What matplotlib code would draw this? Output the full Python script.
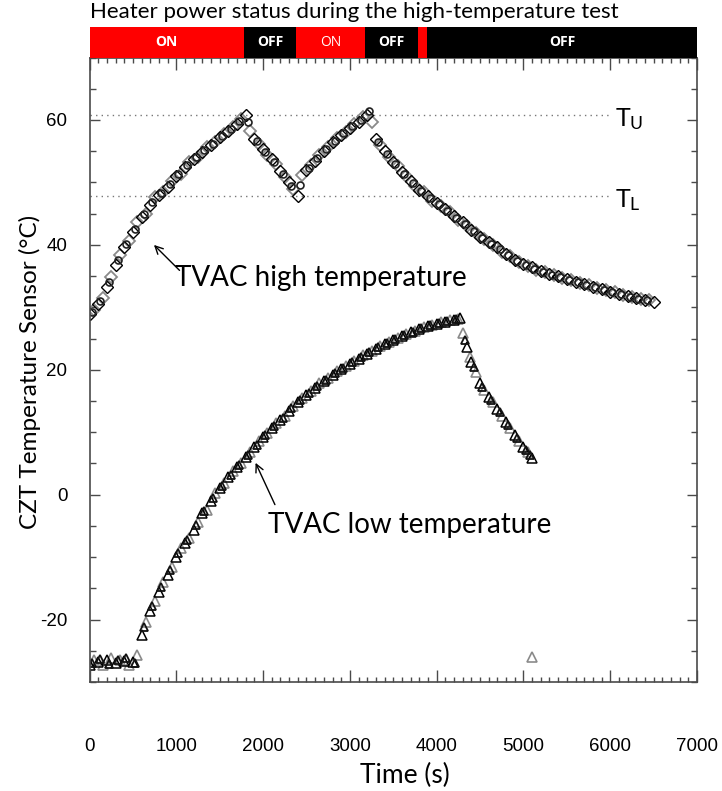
import matplotlib
matplotlib.use("Agg")
import matplotlib.pyplot as plt
from matplotlib.ticker import MultipleLocator

# ---------------- data ----------------
# heater status bar (time boundaries in s)
heater_start = [0, 1780, 2380, 3175, 3785, 3890]
heater_end = [1780, 2380, 3175, 3785, 3890, 7000]
heater_state = ["ON", "OFF", "ON", "OFF", "ON", "OFF"]

# TVAC high temperature test, sensor A (black diamonds)
high_t_a = [0, 100, 200, 300, 400, 500, 600, 700, 800, 900, 1000, 1100, 1200, 1300,
            1400, 1500, 1600, 1700, 1800, 1900, 2000, 2100, 2200, 2300, 2400, 2500,
            2600, 2700, 2800, 2900, 3000, 3100, 3200, 3300, 3400, 3500, 3600, 3700,
            3800, 3900, 4000, 4100, 4200, 4300, 4400, 4500, 4600, 4700, 4800, 4900,
            5000, 5100, 5200, 5300, 5400, 5500, 5600, 5700, 5800, 5900, 6000, 6100,
            6200, 6300, 6400, 6500]
high_T_a = [29.0, 30.6, 33.2, 36.7, 39.6, 42.0, 44.5, 46.4, 48.0, 49.3, 51.0, 52.5, 53.7,
            54.9, 56.0, 57.2, 58.2, 59.4, 60.8, 57.0, 55.3, 53.8, 51.9, 50.0, 47.8, 52.0,
            53.5, 55.0, 56.4, 57.6, 58.7, 59.6, 60.8, 57.0, 55.0, 53.3, 51.7, 50.3, 48.8,
            47.8, 46.7, 45.7, 44.6, 43.6, 42.4, 41.3, 40.5, 39.6, 38.5, 37.5, 36.9, 36.4,
            35.8, 35.3, 35.0, 34.5, 34.1, 33.7, 33.3, 32.9, 32.5, 32.2, 31.8, 31.5, 31.2,
            30.9]

# TVAC high temperature test, sensor B (grey diamonds)
high_t_b = [50, 150, 250, 350, 450, 550, 650, 750, 850, 950, 1050, 1150, 1250, 1350,
            1450, 1550, 1650, 1750, 1850, 1950, 2050, 2150, 2250, 2350, 2450, 2550,
            2650, 2750, 2850, 2950, 3050, 3150, 3250, 3350, 3450, 3550, 3650, 3750,
            3850, 3950, 4050, 4150, 4250, 4350, 4450, 4550, 4650, 4750, 4850, 4950,
            5050, 5150, 5250, 5350, 5450, 5550, 5650, 5750, 5850, 5950, 6050, 6150,
            6250, 6350, 6450]
high_T_b = [29.6, 31.5, 34.8, 38.4, 40.6, 43.6, 44.9, 47.6, 48.4, 50.3, 51.4, 53.3, 54.0,
            55.6, 56.4, 57.7, 58.9, 60.2, 58.3, 56.2, 54.4, 52.9, 50.8, 49.0, 51.2, 52.8,
            54.4, 55.6, 57.1, 58.0, 59.3, 60.4, 59.6, 56.0, 54.0, 52.6, 51.0, 49.4, 48.5,
            47.1, 46.2, 45.2, 44.0, 43.0, 41.9, 41.0, 40.0, 38.9, 38.2, 37.3, 36.6, 36.0,
            35.6, 35.1, 34.7, 34.3, 33.9, 33.5, 33.1, 32.7, 32.4, 32.0, 31.7, 31.4, 31.1]

# TVAC high temperature test, sensor C (black circles)
high_t_c = [25, 125, 225, 325, 425, 525, 625, 725, 825, 925, 1025, 1125, 1225, 1325,
            1425, 1525, 1625, 1725, 1825, 1925, 2025, 2125, 2225, 2325, 2425, 2525,
            2625, 2725, 2825, 2925, 3025, 3125, 3225, 3325, 3425, 3525, 3625, 3725,
            3825, 3925, 4025, 4125, 4225, 4325, 4425, 4525, 4625, 4725, 4825, 4925,
            5025, 5125, 5225, 5325, 5425, 5525, 5625, 5725, 5825, 5925, 6025, 6125,
            6225, 6325, 6425]
high_T_c = [29.3, 31.0, 34.0, 37.5, 40.2, 42.6, 45.0, 46.9, 48.3, 49.7, 51.3, 52.8, 54.0,
            55.2, 56.2, 57.4, 58.6, 59.8, 59.6, 56.6, 54.8, 53.3, 51.4, 49.5, 49.6, 52.3,
            53.9, 55.3, 56.7, 57.9, 59.0, 60.0, 61.4, 56.4, 54.6, 53.0, 51.3, 49.9, 48.6,
            47.5, 46.5, 45.4, 44.3, 43.3, 42.2, 41.1, 40.2, 39.3, 38.3, 37.4, 36.8, 36.2,
            35.7, 35.2, 34.9, 34.4, 34.0, 33.6, 33.2, 32.8, 32.4, 32.1, 31.7, 31.4, 31.2]

# TVAC low temperature test, sensor A (black triangles)
low_t_a = [0, 100, 200, 300, 400, 500, 600, 700, 800, 900, 1000, 1100, 1200, 1300, 1400,
           1500, 1600, 1700, 1800, 1900, 2000, 2100, 2200, 2300, 2400, 2500, 2600, 2700,
           2800, 2900, 3000, 3100, 3200, 3300, 3400, 3500, 3600, 3700, 3800, 3900, 4000,
           4100, 4200, 4270, 4350, 4400, 4500, 4600, 4700, 4800, 4900, 5000, 5100]
low_T_a = [-27.3, -26.8, -26.5, -27.0, -26.7, -26.8, -22.5, -18.7, -15.6, -12.8, -10.0,
           -7.7, -5.6, -3.0, -1.0, 1.0, 2.8, 4.4, 6.0, 7.6, 9.2, 10.6, 12.0, 13.4, 14.8,
           16.0, 17.1, 18.2, 19.2, 20.1, 21.0, 21.8, 22.6, 23.4, 24.1, 24.8, 25.4, 26.0,
           26.5, 27.0, 27.4, 27.7, 28.0, 28.3, 23.6, 21.2, 17.9, 15.7, 13.7, 11.7, 9.6,
           7.6, 5.9]

# TVAC low temperature test, sensor B (grey triangles)
low_t_b = [50, 150, 250, 350, 450, 550, 650, 750, 850, 950, 1050, 1150, 1250, 1350, 1450,
           1550, 1650, 1750, 1850, 1950, 2050, 2150, 2250, 2350, 2450, 2550, 2650, 2750,
           2850, 2950, 3050, 3150, 3250, 3350, 3450, 3550, 3650, 3750, 3850, 3950, 4050,
           4150, 4250, 4300, 4380, 4450, 4550, 4650, 4750, 4850, 4950, 5050, 5100]
low_T_b = [-26.4, -27.2, -26.1, -26.4, -27.2, -25.6, -20.4, -17.0, -14.0, -11.6, -8.6,
           -6.9, -4.4, -2.4, 0.2, 1.8, 3.8, 5.0, 6.9, 8.6, 9.8, 11.4, 12.6, 14.2, 15.4,
           16.6, 17.8, 18.6, 19.8, 20.6, 21.4, 22.3, 23.0, 23.8, 24.5, 25.1, 25.8, 26.2,
           26.8, 27.2, 27.6, 27.9, 28.1, 25.9, 22.0, 19.6, 16.8, 14.8, 12.6, 10.6, 8.6,
           6.8, -26.0]

# TVAC low temperature test, sensor C (black triangles)
low_t_c = [25, 125, 225, 325, 425, 525, 625, 725, 825, 925, 1025, 1125, 1225, 1325, 1425,
           1525, 1625, 1725, 1825, 1925, 2025, 2125, 2225, 2325, 2425, 2525, 2625, 2725,
           2825, 2925, 3025, 3125, 3225, 3325, 3425, 3525, 3625, 3725, 3825, 3925, 4025,
           4125, 4225, 4325, 4425, 4525, 4625, 4725, 4825, 4925, 5025, 5075]
low_T_c = [-26.9, -26.3, -27.1, -26.5, -26.2, -26.9, -21.2, -17.8, -14.8, -12.1, -9.3,
           -7.2, -4.9, -2.6, -0.6, 1.4, 3.2, 4.8, 6.4, 8.0, 9.5, 11.0, 12.3, 13.8, 15.1,
           16.3, 17.4, 18.4, 19.4, 20.3, 21.2, 22.0, 22.8, 23.6, 24.3, 25.0, 25.6, 26.1,
           26.7, 27.1, 27.5, 27.8, 28.2, 24.8, 20.4, 17.3, 15.2, 13.2, 11.2, 9.1, 7.2, 6.3]

T_U = 60.8
T_L = 47.8
ref_end = 6000

xticks = [0, 1000, 2000, 3000, 4000, 5000, 6000, 7000]
yticks = [-20, 0, 20, 40, 60]

# ---------------- figure ----------------
W, H = 722, 791
plt.rcParams['axes.unicode_minus'] = False
plt.rcParams['mathtext.fontset'] = 'custom'
plt.rcParams['mathtext.rm'] = 'Lato'
plt.rcParams['mathtext.it'] = 'Lato'
fig = plt.figure(figsize=(W / 100, H / 100), dpi=100)

label_font = ['Lato', 'DejaVu Sans']
tick_font = ['Liberation Sans', 'DejaVu Sans']
spine_col = '#4a4a4a'

def fx(px):
    return px / W

def fy(py):
    return 1 - py / H

ax = fig.add_axes([fx(89.5), fy(682), fx(697) - fx(89.5), fy(57.5) - fy(682)])
bar = fig.add_axes([fx(89.5), fy(58), fx(697) - fx(89.5), fy(27) - fy(58)])

# heater bar
for i, (s, e, st) in enumerate(zip(heater_start, heater_end, heater_state)):
    col = 'red' if st == 'ON' else 'black'
    bar.axvspan(s, e, color=col, lw=0)
    if e - s > 300:
        bar.text((s + e) / 2, 0.5, st, color='white', ha='center', va='center',
                 fontsize=10, fontweight='normal' if i == 2 else 'bold',
                 family=['Open Sans', 'DejaVu Sans'])
bar.set_xlim(0, 7000)
bar.set_ylim(0, 1)
bar.axis('off')

# reference lines
ax.plot([0, ref_end], [T_U, T_U], ls=(0, (1, 3)), color='#777777', lw=1.0)
ax.plot([0, ref_end], [T_L, T_L], ls=(0, (1, 3)), color='#777777', lw=1.0)

# data
ax.plot(high_t_b, high_T_b, ls='none', marker='D', ms=6.2, mfc='none', mec='#8a8a8a', mew=1.3)
ax.plot(high_t_a, high_T_a, ls='none', marker='D', ms=6.2, mfc='none', mec='black', mew=1.0)
ax.plot(high_t_c, high_T_c, ls='none', marker='o', ms=5.0, mfc='none', mec='#222222', mew=1.2)
ax.plot(low_t_b, low_T_b, ls='none', marker='^', ms=7.0, mfc='none', mec='#8a8a8a', mew=1.2)
ax.plot(low_t_a, low_T_a, ls='none', marker='^', ms=7.0, mfc='none', mec='black', mew=1.1)
ax.plot(low_t_c, low_T_c, ls='none', marker='^', ms=6.0, mfc='none', mec='#111111', mew=1.3)

ax.set_xlim(0, 7000)
ax.set_ylim(-30, 70)
ax.set_xticks(xticks)
ax.set_yticks(yticks)
ax.xaxis.set_minor_locator(MultipleLocator(100))
ax.yaxis.set_minor_locator(MultipleLocator(5))
ax.tick_params(axis='x', which='major', direction='in', length=8.5, width=1.0, color=spine_col,
               top=True, bottom=True, pad=40, labelsize=13.5)
ax.tick_params(axis='x', which='minor', direction='in', length=3.8, width=1.0, color=spine_col,
               top=True, bottom=True)
ax.tick_params(axis='y', which='major', direction='in', length=7.5, width=1.0, color=spine_col,
               left=True, right=True, pad=16, labelsize=13.5)
ax.tick_params(axis='y', which='minor', direction='in', length=4, width=1.0, color=spine_col,
               left=True, right=True)
for lab in ax.get_xticklabels() + ax.get_yticklabels():
    lab.set_family(tick_font)
for sp in ax.spines.values():
    sp.set_color(spine_col)
    sp.set_linewidth(1.2)

# text annotations
ax.text(6050, T_U - 0.6, r'T$_{\mathrm{U}}$', fontsize=18, family=label_font, va='center', ha='left')
ax.text(6050, T_L - 0.6, r'T$_{\mathrm{L}}$', fontsize=18, family=label_font, va='center', ha='left')

ax.annotate('', xy=(720, 40.3), xytext=(1060, 35.6),
            arrowprops=dict(arrowstyle='->', color='black', lw=1.0, mutation_scale=14))
ax.text(985, 34.7, 'TVAC high temperature', fontsize=20, family=label_font,
        va='center', ha='left')
ax.annotate('', xy=(1900, 5.5), xytext=(2150, -2.0),
            arrowprops=dict(arrowstyle='->', color='black', lw=1.0, mutation_scale=14))
ax.text(2056, -4.9, 'TVAC low temperature', fontsize=20, family=label_font,
        va='center', ha='left')

fig.text(fx(90), fy(12), 'Heater power status during the high-temperature test',
         fontsize=16, family=label_font, ha='left', va='center')
fig.text(fx(405), fy(775), 'Time (s)', fontsize=19, family=label_font, ha='center', va='center')
fig.text(fx(30), fy(372), 'CZT Temperature Sensor (°C)', fontsize=17.5, family=label_font,
         ha='center', va='center', rotation=90)

fig.savefig('out.png', dpi=100)
